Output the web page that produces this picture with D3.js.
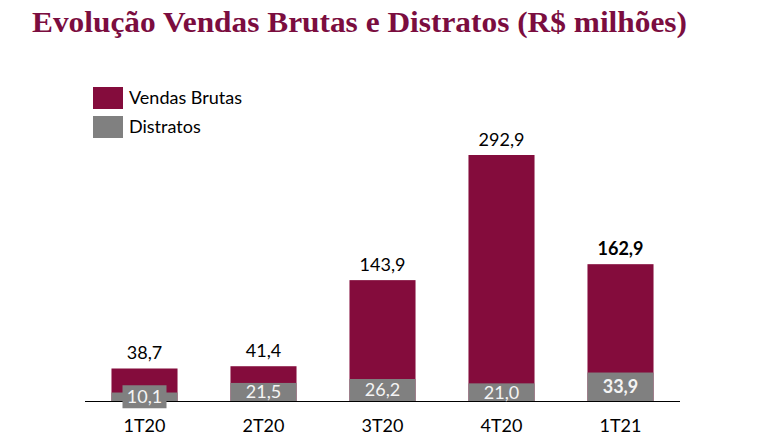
<!DOCTYPE html>
<html><head><meta charset="utf-8">
<script src="https://cdn.jsdelivr.net/npm/d3@7"></script>
<style>body{margin:0;background:#fff}svg{display:block}</style>
</head><body>
<svg id="chart" width="775" height="441"></svg>
<script>
const title = "Evolução Vendas Brutas e Distratos (R$ milhões)";
const categories = ["1T20", "2T20", "3T20", "4T20", "1T21"];
const vendasBrutas = [38.7, 41.4, 143.9, 292.9, 162.9];
const distratos = [10.1, 21.5, 26.2, 21.0, 33.9];
const seriesNames = ["Vendas Brutas", "Distratos"];
const boldIndex = [4];

const maroon = "#840c3c", gray = "#808080", titleColor = "#7b0d3f";
const fmt = v => d3.format(".1f")(v).replace(".", ",");
const svg = d3.select("#chart");
const font = "Lato, 'Open Sans', sans-serif";
const fs = 18;

svg.append("text").attr("x", 32).attr("y", 32)
  .attr("font-family", "'Liberation Serif', serif").attr("font-weight", "bold")
  .attr("font-size", 30).attr("fill", titleColor)
  .attr("textLength", 655).attr("lengthAdjust", "spacingAndGlyphs")
  .text(title);

const x = d3.scaleBand().domain(categories).range([85, 680]).paddingInner(0.445).paddingOuter(0.2225);
const y = d3.scaleLinear().domain([0, 292.9]).range([401, 155]);

// axis line (behind bars)
svg.append("line").attr("x1", 85).attr("x2", 680).attr("y1", 401.5).attr("y2", 401.5)
  .attr("stroke", "#000").attr("stroke-width", 1.2);
const axis = d3.axisBottom(x).tickSize(0).tickPadding(18);
const ag = svg.append("g").attr("transform", "translate(0,401)").call(axis);
ag.select(".domain").remove();
ag.selectAll("text").attr("font-family", font).attr("font-size", fs).attr("fill", "#000");

const g = svg.append("g");
g.selectAll("rect.v").data(categories).join("rect").attr("class", "v")
  .attr("x", d => x(d)).attr("width", x.bandwidth())
  .attr("y", (d, i) => y(vendasBrutas[i])).attr("height", (d, i) => y(0) - y(vendasBrutas[i]))
  .attr("fill", maroon);
g.selectAll("rect.d").data(categories).join("rect").attr("class", "d")
  .attr("x", d => x(d)).attr("width", x.bandwidth())
  .attr("y", (d, i) => y(distratos[i])).attr("height", (d, i) => y(0) - y(distratos[i]))
  .attr("fill", gray);

// label backgrounds where segment is too small
categories.forEach((c, i) => {
  const h = y(0) - y(distratos[i]);
  if (h < 12) {
    const cy = (y(0) + y(distratos[i])) / 2;
    g.append("rect").attr("x", x(c) + x.bandwidth() / 2 - 22).attr("width", 44)
      .attr("y", cy - 11.5).attr("height", 23).attr("fill", gray);
  }
});

// value labels
g.selectAll("text.v").data(categories).join("text").attr("class", "v")
  .attr("x", d => x(d) + x.bandwidth() / 2).attr("y", (d, i) => y(vendasBrutas[i]) - 9)
  .attr("text-anchor", "middle").attr("font-family", font).attr("font-size", fs)
  .attr("font-weight", (d, i) => boldIndex.includes(i) ? "bold" : "normal")
  .attr("fill", "#000").text((d, i) => fmt(vendasBrutas[i]));
g.selectAll("text.d").data(categories).join("text").attr("class", "d")
  .attr("x", d => x(d) + x.bandwidth() / 2)
  .attr("y", (d, i) => (y(0) + y(distratos[i])) / 2).attr("dy", "0.36em")
  .attr("text-anchor", "middle").attr("font-family", font).attr("font-size", fs)
  .attr("font-weight", (d, i) => boldIndex.includes(i) ? "bold" : "normal")
  .attr("fill", "#f4f4f4").text((d, i) => fmt(distratos[i]));

// legend
const lg = svg.append("g");
[maroon, gray].forEach((col, i) => {
  lg.append("rect").attr("x", 93).attr("y", 87 + i * 29).attr("width", 30).attr("height", 22).attr("fill", col);
  lg.append("text").attr("x", 129).attr("y", 98 + i * 29).attr("dy", "0.36em")
    .attr("font-family", font).attr("font-size", fs).attr("fill", "#000").text(seriesNames[i]);
});
</script>
</body></html>
